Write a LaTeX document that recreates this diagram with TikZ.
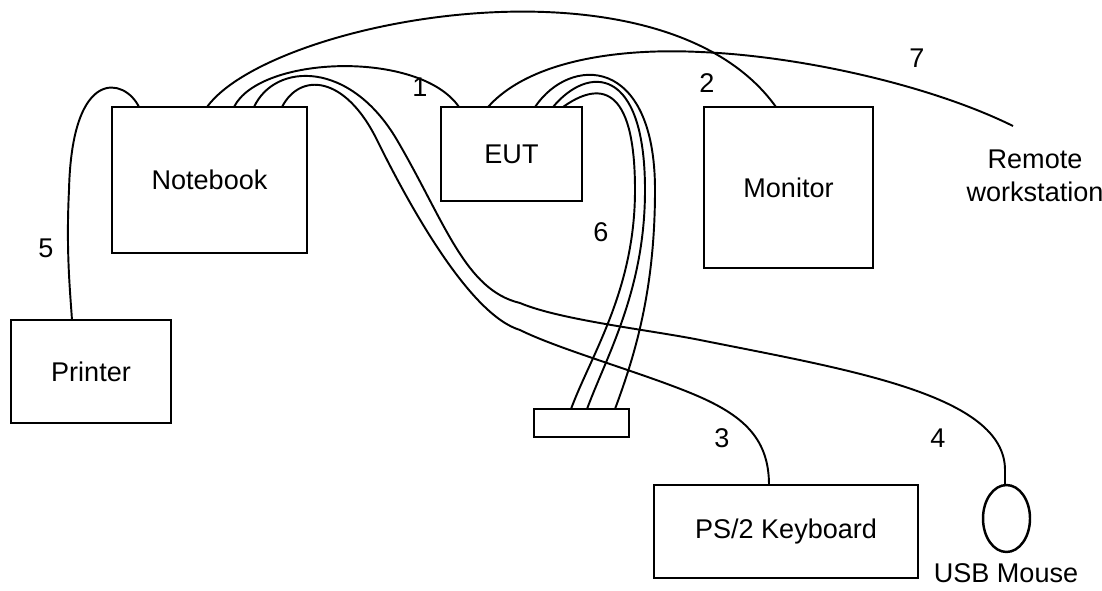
\documentclass[tikz,border=0pt]{standalone}
\usepackage{fontspec}
\setmainfont{Liberation Sans}
\usetikzlibrary{shapes.geometric}
\tikzset{box/.style = {rectangle,draw,line width=1.4pt,inner sep=0pt},
         cable/.style = {line width=1.1pt},
         num/.style = {inner sep=0pt}}

\begin{document}
\begin{tikzpicture}[x=0.02cm,y=-0.02cm,every node/.style={font=\fontsize{15.4}{18.5}\selectfont}]
    \useasboundingbox (0,0) rectangle (1102,591);

    % devices
    \node [box,minimum width=3.9cm,minimum height=2.92cm]  (nb)  at (209.5,180)   {Notebook};
    \node [box,minimum width=2.82cm,minimum height=1.88cm] (eut) at (511.5,154)   {EUT};
    \node [box,minimum width=3.38cm,minimum height=3.22cm] (mon) at (788.5,187.5) {Monitor};
    \node [box,minimum width=3.2cm,minimum height=2.06cm]  (prn) at (91,371.5)    {Printer};
    \node [box,minimum width=1.9cm,minimum height=0.56cm]  (blk) at (581.5,423)   {};
    \node [box,minimum width=5.28cm,minimum height=1.86cm] (kbd) at (786,531.5)   {PS/2 Keyboard};
    \node [draw,ellipse,line width=1.4pt,inner sep=0pt,minimum width=0.94cm,minimum height=1.34cm] (mouse) at (1006.5,518.5) {};
    \node at (1006,573) {USB Mouse};
    \node [align=center] (rws) at (1035,176) {Remote\\workstation};

    % cable ends
    \coordinate (nb5) at (139,107);
    \coordinate (nb2) at (207,107);
    \coordinate (nb1) at (234,107);
    \coordinate (nb4) at (254,107);
    \coordinate (nb3) at (282,107);
    \coordinate (eut1) at (459,107);
    \coordinate (eut7) at (488,107);
    \coordinate (mon2) at (776,107);
    \coordinate (rw)  at (1013,126);
    \coordinate (prn5) at (72,320);
    \coordinate (kbd3) at (769,485);
    \coordinate (ms4) at (1005,485);

    % cables
    \draw [cable] (nb5) .. controls (125,78) and (72,65) .. (69,190)
                        .. controls (66,250) and (70,290) .. (prn5);
    \draw [cable] (nb2) .. controls (270,20) and (660,-55) .. (mon2);
    \draw [cable] (nb1) .. controls (260,55) and (420,50) .. (eut1);
    \draw [cable] (eut7) .. controls (530,60) and (620,48) .. (700,52)
                         .. controls (800,56) and (930,85) .. (rw);
    \draw [cable] (nb4) .. controls (275,62) and (350,60) .. (397,140)
                        .. controls (445,222) and (465,290) .. (520,303)
                        .. controls (560,320) and (650,330) .. (700,340)
                        .. controls (850,370) and (1005,395) .. (1005,470) -- (ms4);
    \draw [cable] (nb3) .. controls (300,72) and (345,75) .. (377,140)
                        .. controls (410,207) and (470,315) .. (520,330)
                        .. controls (560,350) and (650,375) .. (700,397)
                        .. controls (745,417) and (769,440) .. (kbd3);

    % cable 6, three lines
    \foreach \s/\p/\r/\e in {535/55/655/615, 553/65/645/587, 563/82/635/571}
        \draw [cable] (\s,107) .. controls ({\s+35},\p) and (\r,\p) .. (\r,190)
                      .. controls (\r,290) and ({\e+20},355) .. (\e,409);

    % numbers
    \node [num] (n1) at (420,87)  {1};
    \node [num] (n2) at (707,83)  {2};
    \node [num] (n3) at (722,438) {3};
    \node [num] (n4) at (938,438) {4};
    \node [num] (n5) at (46,248)  {5};
    \node [num] (n6) at (601,232) {6};
    \node [num] (n7) at (917,58)  {7};
\end{tikzpicture}
\end{document}
